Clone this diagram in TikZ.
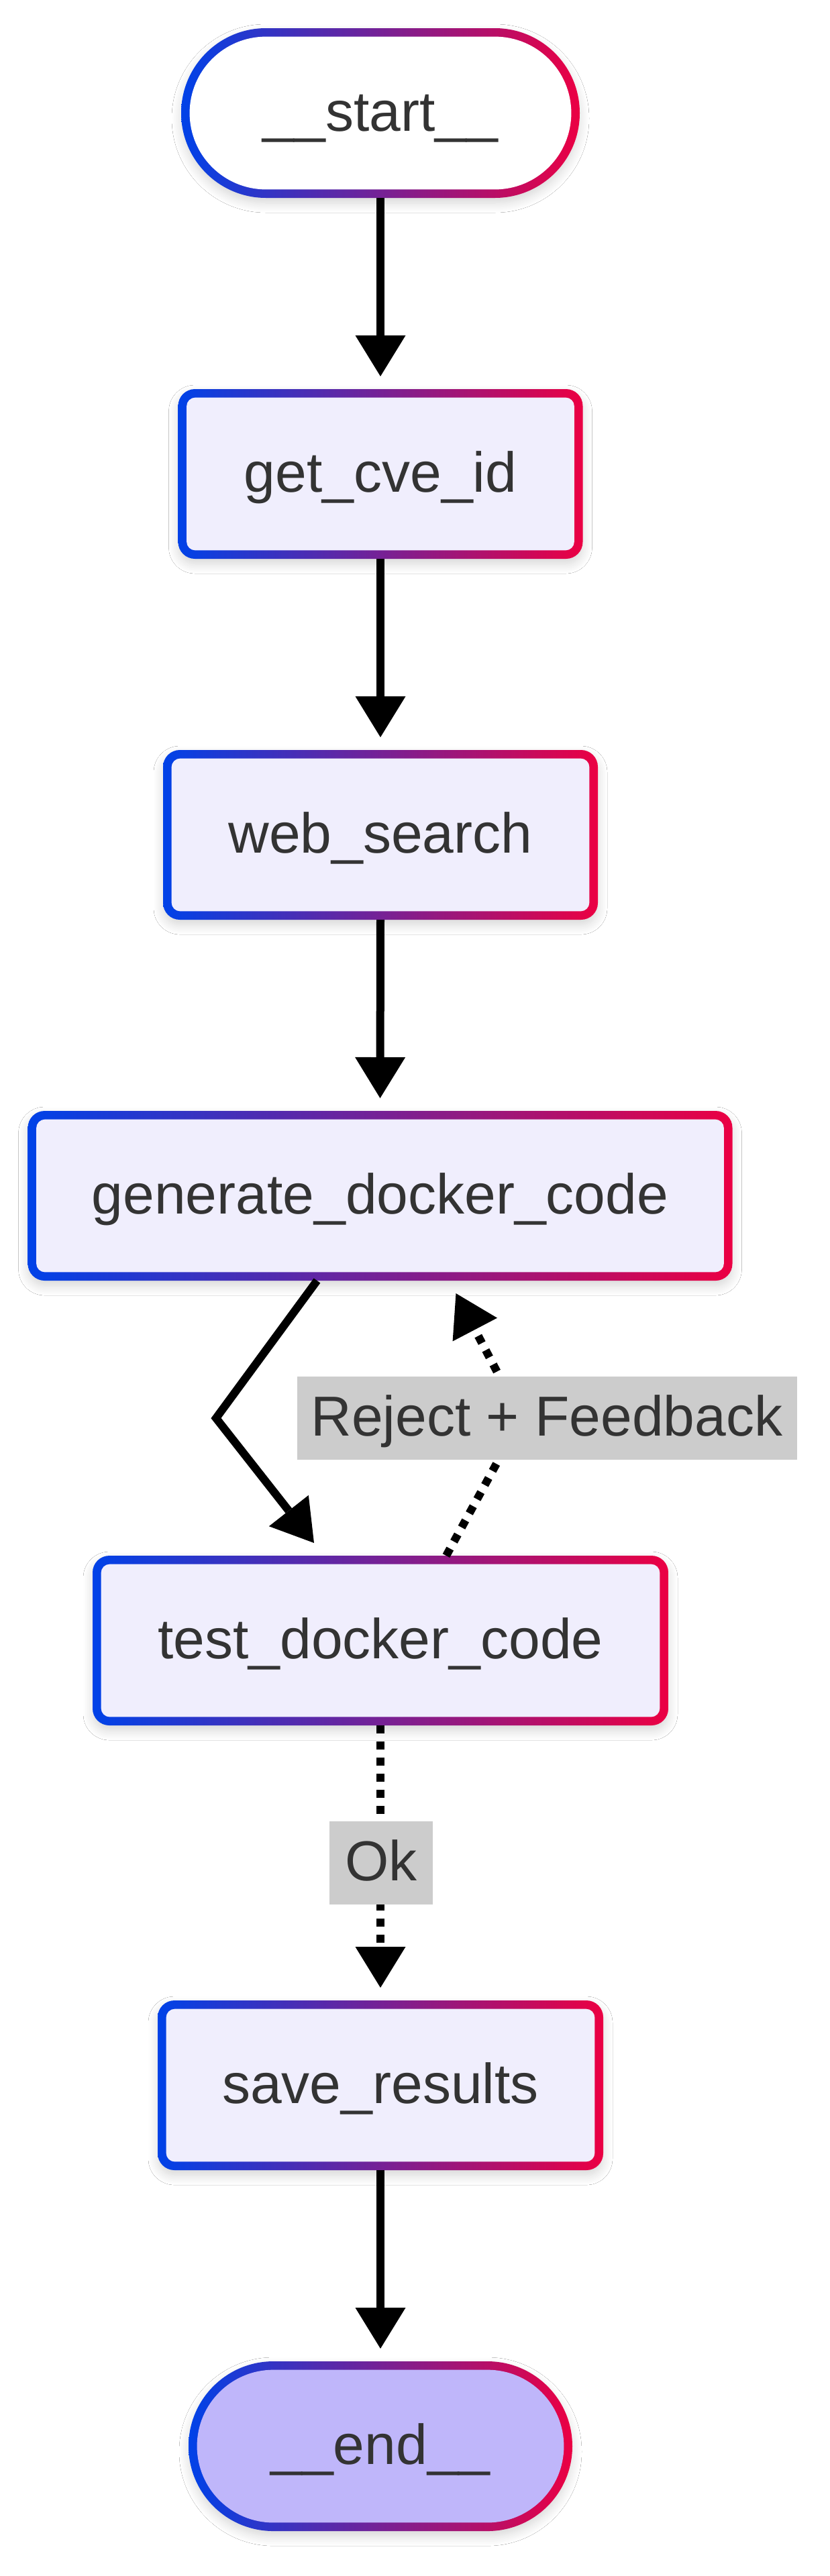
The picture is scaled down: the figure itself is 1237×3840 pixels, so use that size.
\documentclass[tikz,border=0pt]{standalone}
\usepackage{fontspec}
\setmainfont{Liberation Sans}
\usetikzlibrary{arrows.meta,shadows.blur}
\definecolor{gl}{HTML}{0042E8}
\definecolor{gr}{HTML}{EB0043}
\definecolor{boxfill}{HTML}{F0EEFD}
\definecolor{endfill}{HTML}{BFB6FA}
\definecolor{txt}{HTML}{333333}
\definecolor{lblbg}{HTML}{CCCCCC}
\tikzset{
  nodefont/.style={text=txt, font=\fontsize{42}{50}\selectfont, text height=35pt, text depth=8.5pt},
  basebox/.style={shape=rectangle, outer sep=0pt, inner sep=0pt, minimum height=126.5pt, nodefont,
    left color=gl, right color=gr,
    blur shadow={shadow xshift=0pt, shadow yshift=-4pt, shadow blur radius=7pt, shadow opacity=16, shadow blur steps=10}},
  gbox/.style={basebox, rounded corners=12.5pt,
    path picture={\fill[boxfill, rounded corners=6.5pt]
      ([shift={(6.3pt,6.3pt)}]path picture bounding box.south west) rectangle
      ([shift={(-6.3pt,-6.3pt)}]path picture bounding box.north east);}},
  pill/.style={basebox, rounded corners=63.25pt,
    path picture={\fill[#1, rounded corners=56.95pt]
      ([shift={(6.3pt,6.3pt)}]path picture bounding box.south west) rectangle
      ([shift={(-6.3pt,-6.3pt)}]path picture bounding box.north east);}},
  arr/.style={line width=6pt, -{Triangle[length=30.5pt,width=37.5pt,line width=0pt]}},
  dotarr/.style={arr, dash pattern=on 6pt off 6pt},
  lbl/.style={nodefont, fill=lblbg, inner sep=0pt, minimum height=62pt, outer sep=0pt}
}
\begin{document}
\begin{tikzpicture}[x=0.5pt,y=-0.5pt]
\fill[white] (0,0) rectangle (1237,3840);
\useasboundingbox (0,0) rectangle (1237,3840);

\node[pill=white, minimum width=297pt] (start) at (567,168.5) {\_\_start\_\_};
\node[gbox, minimum width=301.5pt] (get) at (567,706.5) {get\_cve\_id};
\node[gbox, minimum width=324pt] (web) at (567,1244.5) {web\_search};
\node[gbox, minimum width=525pt] (gen) at (566.5,1782.5) {generate\_docker\_code};
\node[gbox, minimum width=429pt] (test) at (567,2445.5) {test\_docker\_code};
\node[gbox, minimum width=332pt] (save) at (567,3108.5) {save\_results};
\node[pill=endfill, minimum width=286pt] (end) at (567,3646.5) {\_\_end\_\_};

\coordinate (bendL) at (322,2114);
\coordinate (bendR) at (777,2114);

\draw[arr] (start.south) -- ([yshift=9.5pt]get.north);
\draw[arr] (get.south) -- ([yshift=9.5pt]web.north);
\draw[arr] (web.south) -- ([yshift=9.5pt]gen.north);
\draw[arr] ([xshift=-47pt]gen.south) -- (bendL) -- ([xshift=-49.5pt,yshift=9.5pt]test.north);
\draw[dotarr] ([xshift=49pt]test.north) -- (bendR) -- ([xshift=56.5pt,yshift=-9.5pt]gen.south);
\draw[dotarr] (test.south) -- ([yshift=9.5pt]save.north);
\draw[arr] (save.south) -- ([yshift=9.5pt]end.north);

\node[lbl, minimum width=372.5pt] (lrej) at (815,2114) {Reject + Feedback};
\node[lbl, minimum width=77pt] (lok) at (568,2777) {Ok};
\end{tikzpicture}
\end{document}
